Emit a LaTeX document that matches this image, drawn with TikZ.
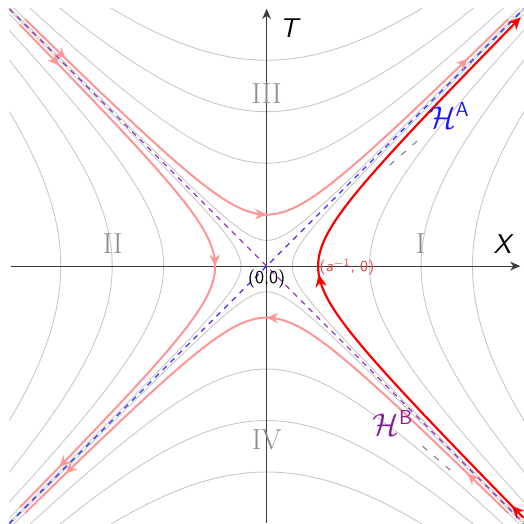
\documentclass[tikz,border=0pt]{standalone}
\usepackage{fontspec}
\usetikzlibrary{arrows.meta,decorations.markings}
\definecolor{pinkc}{RGB}{255,150,150}
\definecolor{redc}{RGB}{250,0,0}
\definecolor{bluec}{RGB}{50,50,255}
\definecolor{purc}{RGB}{150,60,180}
\definecolor{hbc}{RGB}{130,30,150}
\definecolor{hac}{RGB}{20,20,255}
\definecolor{gridc}{RGB}{200,200,200}
\definecolor{axisc}{RGB}{60,60,60}
\definecolor{numc}{RGB}{140,140,140}
\definecolor{lblred}{RGB}{230,70,70}
\tikzset{
  hypgrid/.style={gridc, line width=0.5pt},
  axisline/.style={axisc, line width=0.6pt, -{Stealth[length=2mm,width=1.7mm]}},
  bluedash/.style={bluec, dashed, line width=0.7pt},
  purdash/.style={purc, dashed, line width=0.7pt},
  graydash/.style={gray, line width=0.6pt, dash pattern=on 3.4pt off 5pt},
  pinkline/.style={pinkc, line width=1.1pt},
  redline/.style={redc, line width=1.2pt},
  threearrows/.style={postaction={decorate,decoration={markings,
    mark=at position 0.09 with {\arrow{Stealth[length=2.2mm,width=2mm]}},
    mark=at position 0.5 with {\arrow{Stealth[length=2.2mm,width=2mm]}},
    mark=at position 0.91 with {\arrow{Stealth[length=2.2mm,width=2mm]}}}}},
  redarrows/.style={postaction={decorate,decoration={markings,
    mark=at position 0.025 with {\arrow{Stealth[length=2.4mm,width=2.2mm]}},
    mark=at position 0.49 with {\arrow{Stealth[length=2.4mm,width=2.2mm]}}}}},
  region/.style={numc, font=\fontsize{16}{18}\selectfont},
  axislabel/.style={black, font=\fontsize{15}{18}\selectfont\sffamily\itshape},
}
\begin{document}
\begin{tikzpicture}[x=1cm,y=1cm]
\useasboundingbox (-5.18,-5.01) rectangle (4.99,5.17);
% grid hyperbolas
\begin{scope}
\clip (-5,-5) rectangle (5,5);
\foreach \r in {0.5,1,2,3,4} {
  \draw[hypgrid] plot[domain=-5:5,samples=101,smooth] ({sqrt(\r*\r+\x*\x)},\x);
  \draw[hypgrid] plot[domain=-5:5,samples=101,smooth] ({-sqrt(\r*\r+\x*\x)},\x);
  \draw[hypgrid] plot[domain=-5:5,samples=101,smooth] (\x,{sqrt(\r*\r+\x*\x)});
  \draw[hypgrid] plot[domain=-5:5,samples=101,smooth] (\x,{-sqrt(\r*\r+\x*\x)});
}
\end{scope}
% axes
\coordinate (xl) at (-4.97,0);
\coordinate (xr) at (4.93,0);
\coordinate (tb) at (0,-5.0);
\coordinate (tt) at (0,5.0);
\draw[axisline] (xl) -- (xr);
\draw[axisline] (tb) -- (tt);
% light cone
\coordinate (bl) at (-5,-5);
\coordinate (tr) at (5,5);
\coordinate (tl) at (-5,5);
\coordinate (br) at (5,-5);
\draw[bluedash] (bl) -- (tr);
\draw[purdash] (tl) -- (br);
% short gray dashed pieces
\coordinate (g1a) at (2.39,1.96);
\coordinate (g1b) at (2.97,2.47);
\coordinate (g2a) at (3.03,-3.50);
\coordinate (g2b) at (3.61,-4.00);
\draw[graydash] (g1a) -- (g1b);
\draw[graydash] (g2a) -- (g2b);
% pink flow lines
\draw[pinkline, threearrows] plot[domain=-2.25:2.25,samples=61] ({sinh(\x)},{cosh(\x)});
\draw[pinkline, threearrows] plot[domain=2.25:-2.25,samples=61] ({-cosh(\x)},{sinh(\x)});
\draw[pinkline, threearrows] plot[domain=2.25:-2.25,samples=61] ({sinh(\x)},{-cosh(\x)});
% red trajectory
\draw[redline, redarrows, -{Stealth[length=2.4mm,width=2.2mm]}] plot[domain=-2.29:2.28,samples=61] ({cosh(\x)},{sinh(\x)});
% labels
\node[axislabel] (lt) at (0.43,4.62) {T};
\node[axislabel] (lx) at (4.58,0.43) {X};
\node[region] (rI) at (2.99,0.43) {I};
\node[region] (rII) at (-2.99,0.43) {II};
\node[region] (rIII) at (0,3.36) {III};
\node[region] (rIV) at (0,-3.38) {IV};
\node[black, font=\fontsize{10}{11}\selectfont\sffamily] (o) at (0,-0.25) {(0,0)};
\node[lblred, font=\fontsize{8.5}{10}\selectfont\sffamily] (p) at (1.56,-0.02) {(\textit{a}\textsuperscript{$-$1}, 0)};
\node[hac, font=\fontsize{16}{18}\selectfont] (ha) at (3.55,2.93) {$\mathcal{H}^{\mathsf{A}}$};
\node[hbc, font=\fontsize{16}{18}\selectfont] (hb) at (2.45,-3.05) {$\mathcal{H}^{\mathsf{B}}$};
\end{tikzpicture}
\end{document}
